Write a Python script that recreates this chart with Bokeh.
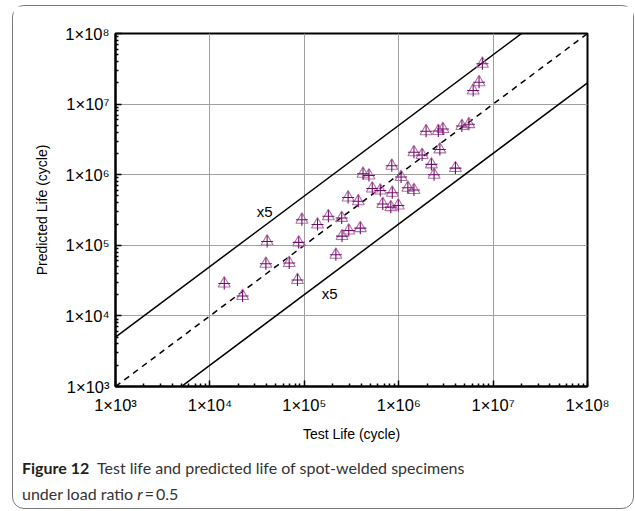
from bokeh.plotting import figure
from bokeh.models import Label, FixedTicker, Range1d, Div, Column
from bokeh.embed import file_html
from bokeh.resources import INLINE

# ---- data ----
test_life = [1.42e4, 2.22e4, 3.92e4, 4.04e4, 6.92e4, 8.47e4, 8.72e4, 9.43e4,
             1.38e5, 1.80e5, 2.49e5, 2.16e5, 2.51e5, 2.96e5, 3.92e5, 2.91e5,
             3.73e5, 4.19e5, 4.84e5, 5.25e5, 6.38e5, 8.45e5, 8.55e5, 1.06e6,
             6.78e5, 8.25e5, 9.90e5, 1.25e6, 1.45e6, 1.45e6, 1.77e6, 2.22e6,
             2.37e6, 2.73e6, 1.95e6, 2.63e6, 2.94e6, 3.99e6, 4.67e6, 5.54e6,
             6.15e6, 7.10e6, 7.70e6]
predicted_life = [2.88e4, 1.91e4, 5.47e4, 1.13e5, 5.62e4, 3.22e4, 1.10e5, 2.30e5,
                  1.97e5, 2.58e5, 2.44e5, 7.34e4, 1.35e5, 1.62e5, 1.75e5, 4.75e5,
                  4.20e5, 1.03e6, 9.74e5, 6.38e5, 5.97e5, 1.34e6, 5.54e5, 9.28e5,
                  3.85e5, 3.47e5, 3.66e5, 6.52e5, 6.07e5, 2.08e6, 1.90e6, 1.40e6,
                  9.97e5, 2.28e6, 4.12e6, 4.15e6, 4.44e6, 1.24e6, 4.90e6, 5.19e6,
                  1.56e7, 2.04e7, 3.72e7]
tick_values = [1000, 10000, 100000, 1000000, 10000000, 100000000]
tick_labels = ["1×10³", "1×10⁴", "1×10⁵", "1×10⁶", "1×10⁷", "1×10⁸"]
minor_values = [m * 10 ** e for e in range(3, 8) for m in range(2, 10)]
band_factor = 5
line_x = [1e3, 1e8]

FONT = "Liberation Sans"

p = figure(width=620, height=445, x_axis_type="log", y_axis_type="log",
           x_range=Range1d(1e3, 1e8), y_range=Range1d(1e3, 1e8),
           output_backend="svg", toolbar_location=None,
           min_border_left=102, min_border_right=46,
           min_border_top=27, min_border_bottom=65, margin=0)
p.background_fill_color = "white"
p.border_fill_color = "white"
p.outline_line_color = "black"
p.outline_line_width = 2

overrides = dict(zip(tick_values, tick_labels))
for ax in (p.xaxis[0], p.yaxis[0]):
    ax.ticker = FixedTicker(ticks=tick_values, minor_ticks=minor_values)
    ax.major_label_overrides = overrides
    ax.axis_line_color = "black"
    ax.axis_line_width = 2
    ax.major_tick_in = 6
    ax.major_tick_out = 0
    ax.minor_tick_in = 3
    ax.minor_tick_out = 0
    ax.major_tick_line_width = 1.5
    ax.minor_tick_line_width = 1.5
    ax.major_label_text_font = FONT
    ax.major_label_text_font_size = "16.5px"
    ax.major_label_text_color = "black"
    ax.axis_label_text_font = FONT
    ax.axis_label_text_font_size = "14px"
    ax.axis_label_text_font_style = "normal"
    ax.axis_label_text_color = "black"

p.xaxis.axis_label = "Test Life (cycle)"
p.yaxis.axis_label = "Predicted Life (cycle)"
p.xaxis.major_label_standoff = 9
p.yaxis.major_label_standoff = 6
p.xaxis.axis_label_standoff = 9
p.yaxis.axis_label_standoff = 12

p.grid.grid_line_color = "#a0a0a0"
p.grid.grid_line_width = 1
p.xgrid.ticker = FixedTicker(ticks=tick_values)
p.ygrid.ticker = FixedTicker(ticks=tick_values)

# reference lines
p.line(line_x, [v * band_factor for v in line_x], line_color="black", line_width=1.5)
p.line(line_x, [v / band_factor for v in line_x], line_color="black", line_width=1.5)
p.line(line_x, line_x, line_color="black", line_width=1.5, line_dash="6 5")

# markers
p.scatter(test_life, predicted_life, marker="triangle", size=12,
          fill_color=None, line_color="#b070a8", line_width=1.1)
p.scatter(test_life, predicted_life, marker="cross", size=12,
          line_color="#760c6a", line_width=1.1)

p.add_layout(Label(x=3.8e4, y=3.0e5, text="x5", text_font=FONT, text_font_size="15px",
                   text_align="center", text_baseline="middle", text_color="black"))
p.add_layout(Label(x=1.86e5, y=2.08e4, text="x5", text_font=FONT, text_font_size="15px",
                   text_align="center", text_baseline="middle", text_color="black"))

caption_html = (
    '<div style="font-family:Lato, sans-serif; font-size:16px; line-height:26px; '
    'color:#333333; padding-left:9px; padding-top:4px; margin:0; white-space:nowrap;">'
    '<span style="font-weight:bold; color:#231f20;">Figure 12</span>'
    '&nbsp;&nbsp;Test life and predicted life of spot-welded specimens<br>'
    'under load ratio <i>r</i>&thinsp;=&thinsp;0.5</div>'
)
caption = Div(text=caption_html, width=620, height=57, margin=0)

layout = Column(children=[p, caption], margin=(5, 0, 0, 12), spacing=0,
                styles={"border": "1.5px solid #7a7a7a", "border-radius": "12px",
                        "background-color": "white"})

open("out.html", "w").write(file_html(layout, INLINE))
